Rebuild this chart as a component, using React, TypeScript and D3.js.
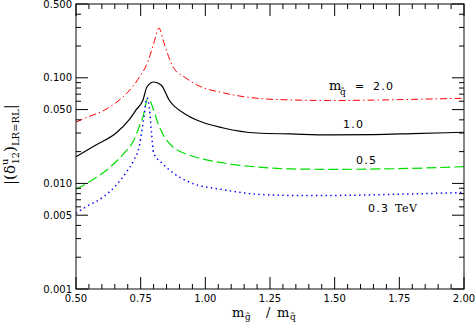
import React from "react";
import * as d3 from "d3";

// m_q = 2.0 TeV (red, dash-dot)
const redX = [0.5, 0.55, 0.6, 0.65, 0.7, 0.74, 0.78, 0.8, 0.821, 0.84, 0.875, 0.925, 0.97, 1.07, 1.2, 1.33, 1.48, 1.65, 1.8, 2.0];
const redY = [0.038, 0.043, 0.048, 0.057, 0.073, 0.097, 0.147, 0.21, 0.296, 0.214, 0.127, 0.0995, 0.085, 0.072, 0.064, 0.0617, 0.061, 0.0615, 0.0625, 0.064];

// m_q = 1.0 TeV (black, solid)
const blackX = [0.5, 0.577, 0.655, 0.705, 0.732, 0.759, 0.774, 0.8, 0.829, 0.86, 0.925, 0.964, 1.07, 1.2, 1.33, 1.48, 1.65, 1.8, 2.0];
const blackY = [0.0179, 0.0231, 0.03, 0.0399, 0.0496, 0.0617, 0.0818, 0.0913, 0.0855, 0.0617, 0.045, 0.04, 0.0335, 0.03, 0.0294, 0.0288, 0.029, 0.0296, 0.0305];

// m_q = 0.5 TeV (green, dashed)
const greenX = [0.5, 0.55, 0.628, 0.686, 0.724, 0.744, 0.759, 0.778, 0.8, 0.817, 0.84, 0.875, 0.925, 0.96, 1.07, 1.2, 1.33, 1.5, 1.75, 2.0];
const greenY = [0.0088, 0.0103, 0.014, 0.0194, 0.0258, 0.0342, 0.0426, 0.0644, 0.0496, 0.037, 0.028, 0.0221, 0.019, 0.0178, 0.0156, 0.0143, 0.0137, 0.0136, 0.0138, 0.0144];

// m_q = 0.3 TeV (blue, dotted)
const blueX = [0.5, 0.539, 0.604, 0.655, 0.693, 0.724, 0.744, 0.755, 0.763, 0.774, 0.786, 0.792, 0.8, 0.832, 0.875, 0.937, 1.07, 1.2, 1.33, 1.5, 1.75, 2.0];
const blueY = [0.0052, 0.006, 0.0074, 0.0096, 0.0126, 0.0167, 0.0221, 0.032, 0.0426, 0.0644, 0.046, 0.03, 0.0194, 0.0156, 0.0126, 0.0103, 0.0087, 0.0079, 0.0077, 0.0077, 0.0079, 0.0082];

const xMajor = [0.5, 0.75, 1.0, 1.25, 1.5, 1.75, 2.0];
const yMajor = [0.001, 0.005, 0.01, 0.05, 0.1, 0.5];
const yMinor = [0.002, 0.003, 0.004, 0.006, 0.007, 0.008, 0.009, 0.02, 0.03, 0.04, 0.06, 0.07, 0.08, 0.09, 0.2, 0.3, 0.4];

const curves = [
  { xs: redX, ys: redY, color: "#ff0000", dash: "7 3 1.5 3", width: 1 },
  { xs: blackX, ys: blackY, color: "#000000", dash: null, width: 1.2 },
  { xs: greenX, ys: greenY, color: "#00dd00", dash: "10 4", width: 1.2 },
  { xs: blueX, ys: blueY, color: "#0000ff", dash: "1.4 3.4", width: 1.5 },
];

const W = 476;
const H = 327;

export default function App() {
  const x = d3.scaleLinear().domain([0.5, 2.0]).range([76, 464]);
  const y = d3.scaleLog().domain([0.001, 0.5]).range([289, 4]);
  const [x0, x1] = x.range();
  const [y0, y1] = y.range();

  const line = d3
    .line<[number, number]>()
    .x((d) => x(d[0]))
    .y((d) => y(d[1]))
    .curve(d3.curveMonotoneX);

  const xMinor = d3.range(0.5, 2.0001, 0.05).filter((v) => !xMajor.some((m) => Math.abs(m - v) < 1e-6));

  const tickFont = "DejaVu Sans, sans-serif";
  const serif = "DejaVu Serif, serif";

  return (
    <svg width={W} height={H} style={{ position: "absolute", left: 0, top: 0, background: "#fff" }}>
      {/* curves */}
      {curves.map((c, i) => (
        <path
          key={i}
          d={line(c.xs.map((v, j) => [v, c.ys[j]] as [number, number])) || ""}
          fill="none"
          stroke={c.color}
          strokeWidth={c.width}
          strokeDasharray={c.dash || undefined}
        />
      ))}

      {/* frame */}
      <rect x={x0} y={y1} width={x1 - x0} height={y0 - y1} fill="none" stroke="#333" strokeWidth={1.2} />

      {/* x ticks, bottom and top */}
      {xMajor.map((v) => (
        <g key={"xM" + v}>
          <line x1={x(v)} x2={x(v)} y1={y0} y2={y0 - 12} stroke="#000" />
          <line x1={x(v)} x2={x(v)} y1={y1} y2={y1 + 12} stroke="#000" />
          <text x={x(v)} y={302} textAnchor="middle" fontFamily={tickFont} fontSize={10}>
            {v.toFixed(2)}
          </text>
        </g>
      ))}
      {xMinor.map((v) => (
        <g key={"xm" + v}>
          <line x1={x(v)} x2={x(v)} y1={y0} y2={y0 - 5} stroke="#000" />
          <line x1={x(v)} x2={x(v)} y1={y1} y2={y1 + 5} stroke="#000" />
        </g>
      ))}

      {/* y ticks, left and right */}
      {yMajor.map((v) => (
        <g key={"yM" + v}>
          <line x1={x0} x2={x0 + 12} y1={y(v)} y2={y(v)} stroke="#000" />
          <line x1={x1} x2={x1 - 12} y1={y(v)} y2={y(v)} stroke="#000" />
          <text x={72} y={y(v)} dy="0.35em" textAnchor="end" fontFamily={tickFont} fontSize={10}>
            {v.toFixed(3)}
          </text>
        </g>
      ))}
      {yMinor.map((v) => (
        <g key={"ym" + v}>
          <line x1={x0} x2={x0 + 5} y1={y(v)} y2={y(v)} stroke="#000" />
          <line x1={x1} x2={x1 - 5} y1={y(v)} y2={y(v)} stroke="#000" />
        </g>
      ))}

      {/* x axis title */}
      <g fontFamily={serif}>
        <text x={232} y={317} fontSize={13}>m</text>
        <text x={245} y={320} fontSize={9}>g̃</text>
        <text x={266} y={317} fontSize={13}>/</text>
        <text x={277} y={317} fontSize={13}>m</text>
        <text x={290} y={320} fontSize={9}>q̃</text>
      </g>

      {/* y axis title */}
      <g transform="translate(15,144) rotate(-90)">
        <text x={-41} y={0} fontFamily={serif} fontSize={15}>
          |(δ
          <tspan fontSize={10} dy={-7}>u</tspan>
          <tspan fontSize={10} dx={-6} dy={11}>12</tspan>
          <tspan dy={-4}>)</tspan>
          <tspan fontSize={10} dy={4}>LR=RL</tspan>
          <tspan dy={-4}>|</tspan>
        </text>
      </g>

      {/* curve labels */}
      <g fontFamily={tickFont} fontSize={11} letterSpacing={1.2}>
        <text x={329} y={90} fontFamily={serif} fontSize={13} letterSpacing={0}>m</text>
        <text x={340} y={95} fontFamily={serif} fontSize={9} letterSpacing={0}>q̃</text>
        <text x={355} y={90}>=</text>
        <text x={373} y={90}>2.0</text>
        <text x={343} y={128}>1.0</text>
        <text x={356} y={164}>0.5</text>
        <text x={368} y={212}>0.3</text>
        <text x={395} y={212} fontFamily={serif} letterSpacing={0.5}>TeV</text>
      </g>
    </svg>
  );
}
